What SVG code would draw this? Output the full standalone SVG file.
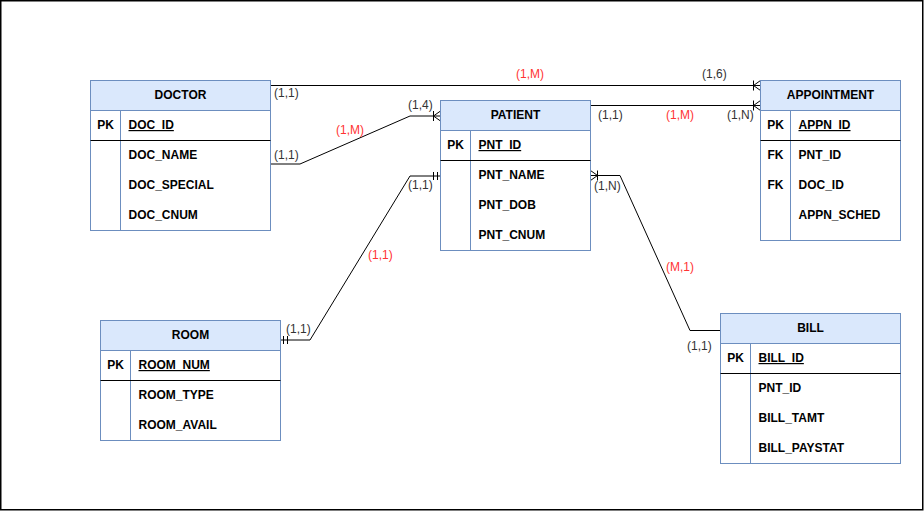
<svg xmlns="http://www.w3.org/2000/svg" width="924" height="511" viewBox="0 0 924 511">
<style>
.hdr{fill:#dae8fc;stroke:#6c8ebf;stroke-width:1}
.box{fill:#ffffff;stroke:#6c8ebf;stroke-width:1}
.div{stroke:#6c8ebf;stroke-width:1;fill:none}
.sep{stroke:#000000;stroke-width:1;fill:none}
.t{font-family:"Liberation Sans",Arial,sans-serif;font-size:12px;font-weight:bold;fill:#000000}
.c{text-anchor:middle}
.u{text-decoration:underline}
.lbl{font-family:"Liberation Sans",Arial,sans-serif;font-size:12px;fill:#333333}
.red{fill:#ff3333}
.edge{fill:none;stroke:#000000;stroke-width:1}
</style>
<defs>
<marker id="many" markerUnits="userSpaceOnUse" viewBox="0 0 20 20" markerWidth="20" markerHeight="20" refX="10" refY="10" orient="auto-start-reverse" overflow="visible">
<path d="M3,5 L3,15 M3,10 L10,5 M3,10 L10,15" fill="none" stroke="#000" stroke-width="1"/>
</marker>
<marker id="one" markerUnits="userSpaceOnUse" viewBox="0 0 20 20" markerWidth="20" markerHeight="20" refX="10" refY="10" orient="auto-start-reverse" overflow="visible">
<path d="M3,6 L3,14 M7,6 L7,14" fill="none" stroke="#000" stroke-width="1"/>
</marker>
</defs>
<rect x="0.75" y="0.75" width="922" height="509" fill="#ffffff" stroke="#000000" stroke-width="1.5"/>

<g id="connectors">
<path class="edge" d="M270.5,85.5 L760.5,85.5" marker-end="url(#many)"/>
<path class="edge" d="M590.5,105.5 L760.5,105.5" marker-end="url(#many)"/>
<path class="edge" d="M270.5,164 L300,164 L410,116 L440.5,116" marker-end="url(#many)"/>
<path class="edge" d="M280.5,340 L310,340 L410,176 L440.5,176" marker-start="url(#one)" marker-end="url(#one)"/>
<path class="edge" d="M590.5,175.5 L620,175.5 L690,330.5 L720.5,330.5" marker-start="url(#many)"/>
<text class="lbl" x="274" y="97">(1,1)</text>
<text class="lbl red" x="516" y="78">(1,M)</text>
<text class="lbl" x="702" y="78">(1,6)</text>
<text class="lbl" x="598" y="119">(1,1)</text>
<text class="lbl red" x="666" y="119">(1,M)</text>
<text class="lbl" x="727" y="119">(1,N)</text>
<text class="lbl" x="408" y="109">(1,4)</text>
<text class="lbl red" x="336" y="134">(1,M)</text>
<text class="lbl" x="274" y="159">(1,1)</text>
<text class="lbl" x="408" y="189">(1,1)</text>
<text class="lbl red" x="368" y="259">(1,1)</text>
<text class="lbl" x="286" y="333">(1,1)</text>
<text class="lbl" x="594" y="190">(1,N)</text>
<text class="lbl red" x="666" y="271">(M,1)</text>
<text class="lbl" x="687" y="350">(1,1)</text>
</g>

<g id="doctor">
<rect class="box" x="90.5" y="80.5" width="180" height="150"/>
<rect class="hdr" x="90.5" y="80.5" width="180" height="30"/>
<line class="div" x1="120.5" y1="110.5" x2="120.5" y2="230.5"/>
<line class="sep" x1="90.5" y1="140.5" x2="270.5" y2="140.5"/>
<text class="t c" x="180.5" y="99">DOCTOR</text>
<text class="t c" x="105.5" y="129">PK</text>
<text class="t u" x="128.5" y="129">DOC_ID</text>
<text class="t" x="128.5" y="159">DOC_NAME</text>
<text class="t" x="128.5" y="189">DOC_SPECIAL</text>
<text class="t" x="128.5" y="219">DOC_CNUM</text>
</g>

<g id="patient">
<rect class="box" x="440.5" y="100.5" width="150" height="150"/>
<rect class="hdr" x="440.5" y="100.5" width="150" height="30"/>
<line class="div" x1="470.5" y1="130.5" x2="470.5" y2="250.5"/>
<line class="sep" x1="440.5" y1="160.5" x2="590.5" y2="160.5"/>
<text class="t c" x="515.5" y="119">PATIENT</text>
<text class="t c" x="455.5" y="149">PK</text>
<text class="t u" x="478.5" y="149">PNT_ID</text>
<text class="t" x="478.5" y="179">PNT_NAME</text>
<text class="t" x="478.5" y="209">PNT_DOB</text>
<text class="t" x="478.5" y="239">PNT_CNUM</text>
</g>

<g id="appointment">
<rect class="box" x="760.5" y="80.5" width="140" height="160"/>
<rect class="hdr" x="760.5" y="80.5" width="140" height="30"/>
<line class="div" x1="790.5" y1="110.5" x2="790.5" y2="240.5"/>
<line class="sep" x1="760.5" y1="140.5" x2="900.5" y2="140.5"/>
<text class="t c" x="830.5" y="99">APPOINTMENT</text>
<text class="t c" x="775.5" y="129">PK</text>
<text class="t u" x="798.5" y="129">APPN_ID</text>
<text class="t c" x="775.5" y="159">FK</text>
<text class="t" x="798.5" y="159">PNT_ID</text>
<text class="t c" x="775.5" y="189">FK</text>
<text class="t" x="798.5" y="189">DOC_ID</text>
<text class="t" x="798.5" y="219">APPN_SCHED</text>
</g>

<g id="room">
<rect class="box" x="100.5" y="320.5" width="180" height="120"/>
<rect class="hdr" x="100.5" y="320.5" width="180" height="30"/>
<line class="div" x1="130.5" y1="350.5" x2="130.5" y2="440.5"/>
<line class="sep" x1="100.5" y1="380.5" x2="280.5" y2="380.5"/>
<text class="t c" x="190.5" y="339">ROOM</text>
<text class="t c" x="115.5" y="369">PK</text>
<text class="t u" x="138.5" y="369">ROOM_NUM</text>
<text class="t" x="138.5" y="399">ROOM_TYPE</text>
<text class="t" x="138.5" y="429">ROOM_AVAIL</text>
</g>

<g id="bill">
<rect class="box" x="720.5" y="313.5" width="180" height="150"/>
<rect class="hdr" x="720.5" y="313.5" width="180" height="30"/>
<line class="div" x1="750.5" y1="343.5" x2="750.5" y2="463.5"/>
<line class="sep" x1="720.5" y1="373.5" x2="900.5" y2="373.5"/>
<text class="t c" x="810.5" y="332">BILL</text>
<text class="t c" x="735.5" y="362">PK</text>
<text class="t u" x="758.5" y="362">BILL_ID</text>
<text class="t" x="758.5" y="392">PNT_ID</text>
<text class="t" x="758.5" y="422">BILL_TAMT</text>
<text class="t" x="758.5" y="452">BILL_PAYSTAT</text>
</g>
</svg>
